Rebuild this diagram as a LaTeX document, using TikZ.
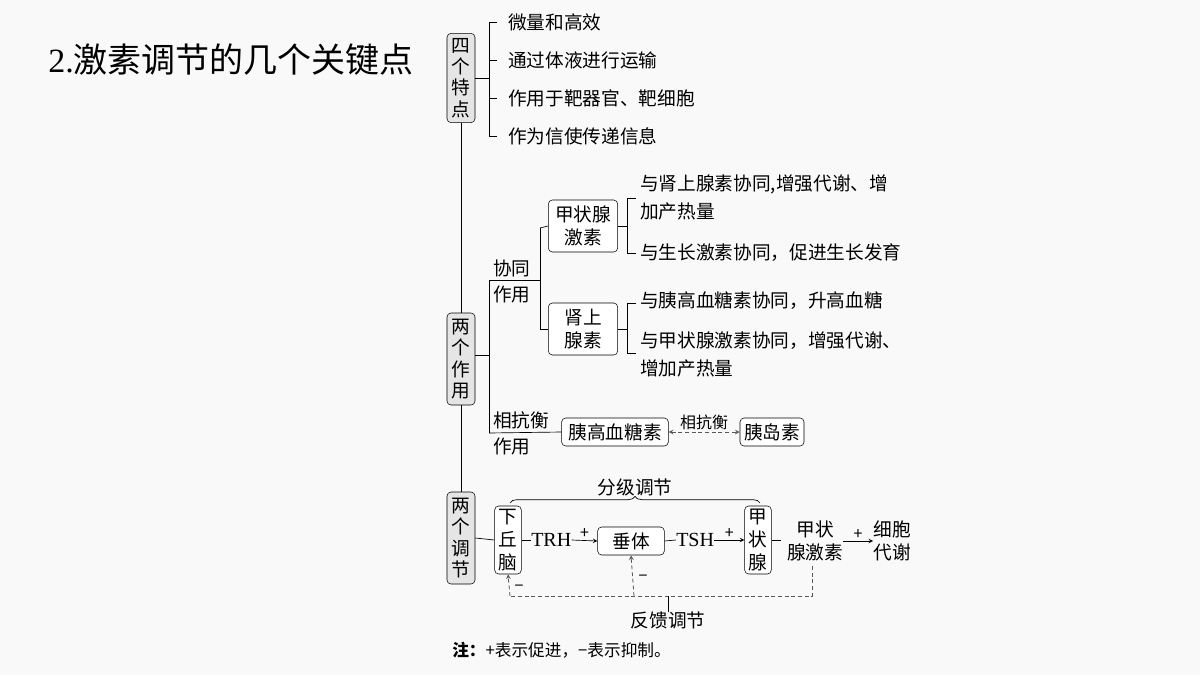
\documentclass[tikz,border=0pt]{standalone}
\usepackage{fontspec}
\setmainfont{Noto Sans CJK SC}
\newfontfamily\latinfont{Liberation Serif}
\usetikzlibrary{decorations.pathreplacing}
\definecolor{boxfill}{rgb}{0.90,0.90,0.90}
\definecolor{paper}{rgb}{0.975,0.975,0.975}
\begin{document}
\begin{tikzpicture}[x=0.75pt,y=-0.75pt,
  txt/.style={inner sep=0pt,anchor=west,font=\fontsize{14}{17}\selectfont},
  cat/.style={draw,rounded corners=3pt,fill=boxfill,minimum width=21pt,inner sep=1pt,align=center,font=\fontsize{14}{16}\selectfont},
  box/.style={draw,rounded corners=3pt,fill=white,inner sep=2pt,align=center,font=\fontsize{14}{17}\selectfont},
  sgn/.style={inner sep=1pt,font=\fontsize{12}{12}\selectfont},
  ln/.style={line width=0.5pt},
  fbline/.style={line width=0.6pt,dash pattern=on 3pt off 2pt,gray!70!black},
  arr/.style={line width=0.5pt,-stealth}]
\fill[paper] (0,0) rectangle (1200,675);
\useasboundingbox (0,0) rectangle (1200,675);
% title
\node[anchor=west,inner sep=0pt,font=\fontsize{25.5}{28}\selectfont] (title) at (48,60) {{\latinfont 2.}激素调节的几个关键点};
% left categories
\node[cat,minimum height=67pt] (c1) at (461,78) {四\\个\\特\\点};
\node[cat,minimum height=69pt] (c2) at (461,359) {两\\个\\作\\用};
\node[cat,minimum height=69pt] (c3) at (461,538) {两\\个\\调\\节};
\draw[ln] (c1.south) -- (c2.north);
\draw[ln] (c2.south) -- (c3.north);
% four features
\coordinate (f0) at (489,78);
\foreach \t/\y [count=\i] in {微量和高效/22,通过体液进行运输/60,作用于靶器官、靶细胞/98,作为信使传递信息/136}{
  \node[txt] (f\i) at (508,\y) {\t};
  \draw[ln] (489,\y) -- ++(8,0);
}
\draw[ln] (489,22) -- (489,136);
\draw[ln] (c1.east) -- (f0);
% two functions
\coordinate (g0) at (489,355);
\draw[ln] (c2.east |- g0) -- (g0);
\draw[ln] (489,280) -- (489,433);
\node[txt] (xt) at (493,268) {协同};
\node[txt] (xt2) at (493,294) {作用};
\coordinate (g1) at (540,280);
\draw[ln] (489,280) -- (g1);
\draw[ln] (540,228) -- (540,329);
\node[box,minimum width=52pt,minimum height=39pt] (th) at (583,226) {甲状腺\\激素};
\node[box,minimum width=52pt,minimum height=39pt] (ad) at (583,329) {肾上\\腺素};
\draw[ln] (540,228) -- (th.west);
\draw[ln] (540,329) -- (ad.west);
\draw[ln] (th.east) -- (627,226);
\draw[ln] (627,198) -- (627,253);
\draw[ln] (ad.east) -- (627,329);
\draw[ln] (627,303) -- (627,353);
\node[txt] (t1) at (640,184) {与肾上腺素协同,增强代谢、增};
\node[txt] (t2) at (640,211) {加产热量};
\node[txt] (t3) at (640,253) {与生长激素协同，促进生长发育};
\node[txt] (t4) at (640,301) {与胰高血糖素协同，升高血糖};
\node[txt] (t5) at (640,341) {与甲状腺激素协同，增强代谢、};
\node[txt] (t6) at (640,368) {增加产热量};
\draw[ln] (627,198) -- (636,198);
\draw[ln] (627,253) -- (636,253);
\draw[ln] (627,303) -- (636,303);
\draw[ln] (627,353) -- (636,353);
% antagonism
\node[txt] (kt) at (493,420) {相抗衡};
\node[txt] (kt2) at (493,446) {作用};
\node[box,minimum width=80pt,minimum height=21pt] (gl) at (615,432) {胰高血糖素};
\node[box,minimum width=48pt,minimum height=21pt] (in) at (772,432) {胰岛素};
\draw[ln] (489,433) -- (gl.west);
\draw[fbline,stealth-stealth] (gl.east) -- node[above=1pt,txt,anchor=south,font=\fontsize{12}{14}\selectfont,text=black] {相抗衡} (in.west);
% regulation
\node[box,fill=white,minimum width=20pt,minimum height=51pt,inner sep=1pt] (hy) at (508,540) {下\\丘\\脑};
\node[txt,font=\fontsize{15}{17}\selectfont] (trh) at (531,540) {\latinfont TRH};
\node[box,minimum width=50pt,minimum height=21pt] (pi) at (631,541) {垂体};
\node[txt,font=\fontsize{15}{17}\selectfont] (tsh) at (676,540) {\latinfont TSH};
\node[box,minimum width=20pt,minimum height=51pt,inner sep=1pt] (tg) at (758,540) {甲\\状\\腺};
\node[txt,align=center,anchor=center] (th2) at (815,541) {甲状\\腺激素};
\node[txt,align=center,anchor=center] (cm) at (892,541) {细胞\\代谢};
\draw[ln] (c3.east) -- (hy.west);
\draw[ln] (hy.east) -- (trh.west);
\draw[arr] (trh.east) -- node[above,sgn] {+} (pi.west);
\draw[ln] (pi.east) -- (tsh.west);
\draw[arr] (tsh.east) -- node[above,sgn] {+} (tg.west);
\draw[ln] (tg.east) -- ++(9,0);
\draw[arr] (th2.east) -- node[above,sgn] {+} (cm.west);
\draw[ln,decorate,decoration={brace,amplitude=5pt}] (510,503) -- node[above=5pt,txt,anchor=south] (fj) {分级调节} (760,503);
% feedback
\coordinate (fb1) at (812,596);
\coordinate (fb2) at (510,596);
\coordinate (fb3) at (634,596);
\draw[fbline] (812,566) -- (fb1) -- (fb2);
\draw[fbline,-stealth] (fb2) -- (hy.south);
\draw[fbline,-stealth] (fb3) -- (pi.south);
\node[sgn] (m1) at (519,588) {\textminus};
\node[sgn] (m2) at (643,578) {\textminus};
\node[txt,anchor=north] (fk) at (668,612) {反馈调节};
\draw[ln] (668,596) -- (fk.north);
% note
\node[txt,font=\fontsize{12.5}{14}\selectfont] (note) at (452,650) {\textbf{注：}+表示促进，−表示抑制。};
\end{tikzpicture}
\end{document}
